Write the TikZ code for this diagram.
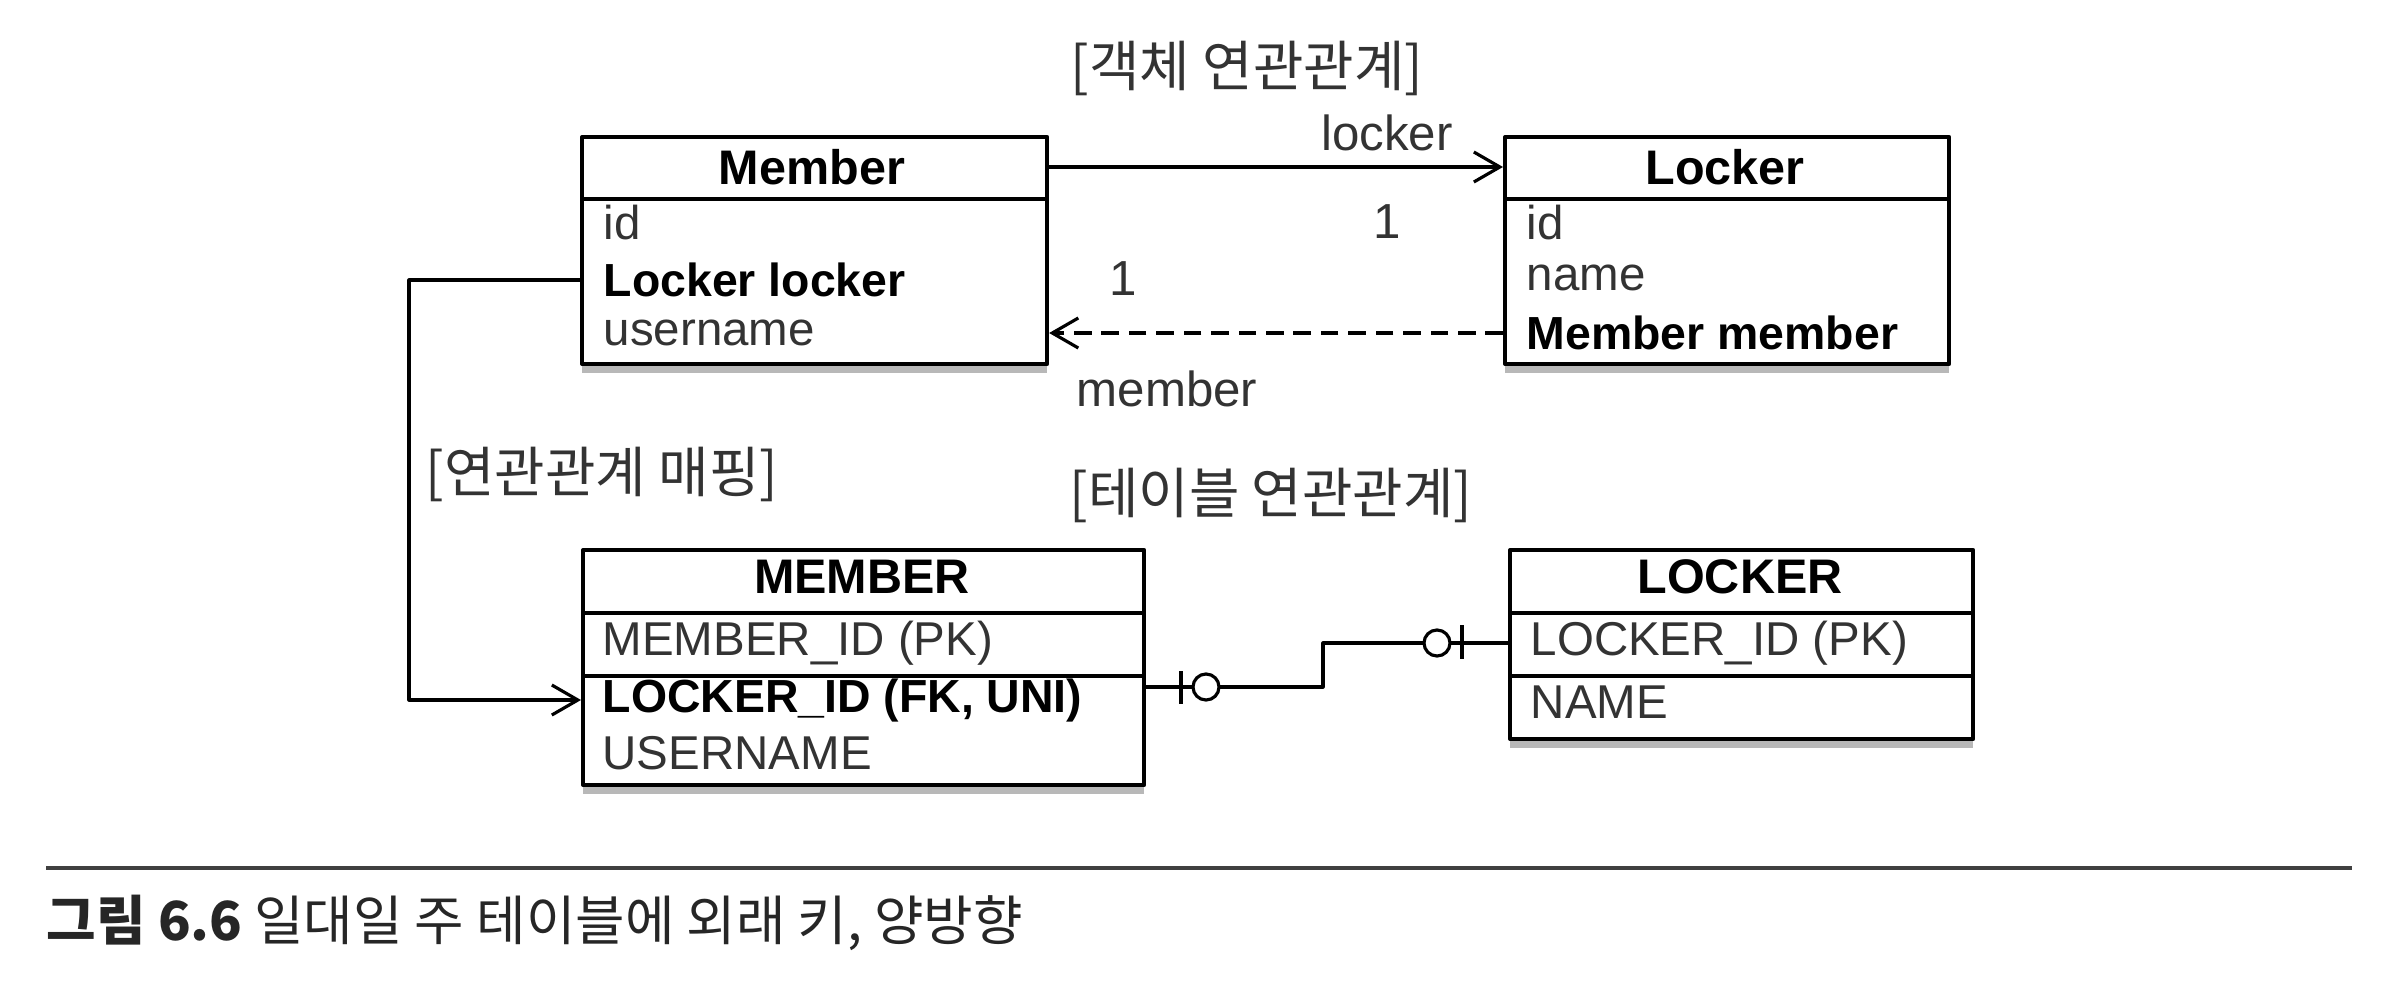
\documentclass[tikz,border=0pt]{standalone}
\usepackage{fontspec}
\setmainfont{Liberation Sans}
\newfontfamily\kr{Noto Sans CJK KR}
\usetikzlibrary{arrows.meta,shadows}
\begin{document}
\begin{tikzpicture}[x=.01cm,y=-.01cm,line join=round,
	>={Straight Barb[length=2.6mm,width=3mm]},
	tbl/.style={draw,line width=1.1pt,fill=white,inner sep=0pt,anchor=north west,
		drop shadow={shadow xshift=0pt,shadow yshift=-2.5pt,fill=black!55,opacity=.5}},
	hd/.style={font=\fontsize{13.8}{16}\selectfont\bfseries},
	fld/.style={anchor=west,inner sep=0pt,text=black!80,font=\fontsize{13.5}{16}\selectfont},
	key/.style={fld,text=black,font=\fontsize{13.2}{16}\selectfont\bfseries},
	lbl/.style={text=black!80,font=\fontsize{14}{16}\selectfont},
	ttl/.style={text=black!80,font=\kr\fontsize{15.6}{18}\selectfont},
	lnk/.style={line width=.9pt}]
	\path[use as bounding box,fill=white] (0,0) rectangle (2382,1000);
	\node[ttl] (objt) at (1247,68) {[객체 연관관계]};
	\node[tbl,minimum width=4.65cm,minimum height=2.27cm] (member) at (580,135) {};
	\node[tbl,minimum width=4.44cm,minimum height=2.27cm] (locker) at (1503,135) {};
	\draw[line width=1.1pt] (580,199) -- (1045,199) (1503,199) -- (1947,199);
	\node[hd] (mhd) at (812,167) {Member};
	\node[fld] (m-id) at (603,223) {id};
	\node[key] (m-lck) at (603,280) {Locker locker};
	\node[fld] (m-usr) at (603,333) {username};
	\node[hd] (lhd) at (1725,167) {Locker};
	\node[fld] (l-id) at (1526,223) {id};
	\node[fld] (l-nm) at (1526,278) {name};
	\node[key] (l-mem) at (1526,333) {Member member};
	\draw[lnk,->] (mhd -| member.east) -- (mhd -| locker.west);
	\draw[lnk,->,dash pattern=on 5pt off 2.8pt] (l-mem -| locker.west) -- (l-mem -| member.east);
	\node[lbl] (lk) at (1387,133) {locker};
	\node[lbl] (one1) at (1387,222) {1};
	\node[lbl] (one2) at (1123,279) {1};
	\node[lbl] (mb) at (1167,389) {member};
	\node[ttl] (map) at (602,474) {[연관관계 매핑]};
	\node[ttl] (tbl) at (1271,495) {[테이블 연관관계]};
	\node[tbl,minimum width=5.61cm,minimum height=2.35cm] (mtab) at (581,548) {};
	\node[tbl,minimum width=4.63cm,minimum height=1.89cm] (ltab) at (1508,548) {};
	\draw[line width=1.1pt] (581,613) -- (1142,613) (581,676) -- (1142,676)
		(1508,613) -- (1971,613) (1508,676) -- (1971,676);
	\node[hd] (mthd) at (862,577) {MEMBER};
	\node[fld] (t-pk) at (602,643) {MEMBER\_ID (PK)};
	\node[key] (t-fk) at (602,700) {LOCKER\_ID (FK, UNI)};
	\node[fld] (t-usr) at (602,753) {USERNAME};
	\node[hd] (lthd) at (1740,577) {LOCKER};
	\node[fld] (l-pk) at (1530,643) {LOCKER\_ID (PK)};
	\node[fld] (l-name) at (1530,702) {NAME};
	\coordinate (bend) at (409,0);
	\draw[lnk,->] (m-lck -| member.west) -- (m-lck -| bend) |- (t-fk -| mtab.west);
	\coordinate (jog) at (1323,687);
	\draw[lnk] (jog -| mtab.east) -- (jog) |- (l-pk -| ltab.west);
	\draw[lnk] (1181,671) -- (1181,704) (1462,625) -- (1462,659);
	\draw[lnk,fill=white] (1206,687) circle[radius=.13cm] (1437,643) circle[radius=.13cm];
	\draw[line width=1pt,black!75] (46,868) -- (2352,868);
	\node[anchor=west,inner sep=0pt,text=black!85,font=\kr\fontsize{15.3}{18}\selectfont] (cap) at (46,923)
		{\textbf{그림 6.6} 일대일 주 테이블에 외래 키, 양방향};
\end{tikzpicture}
\end{document}
